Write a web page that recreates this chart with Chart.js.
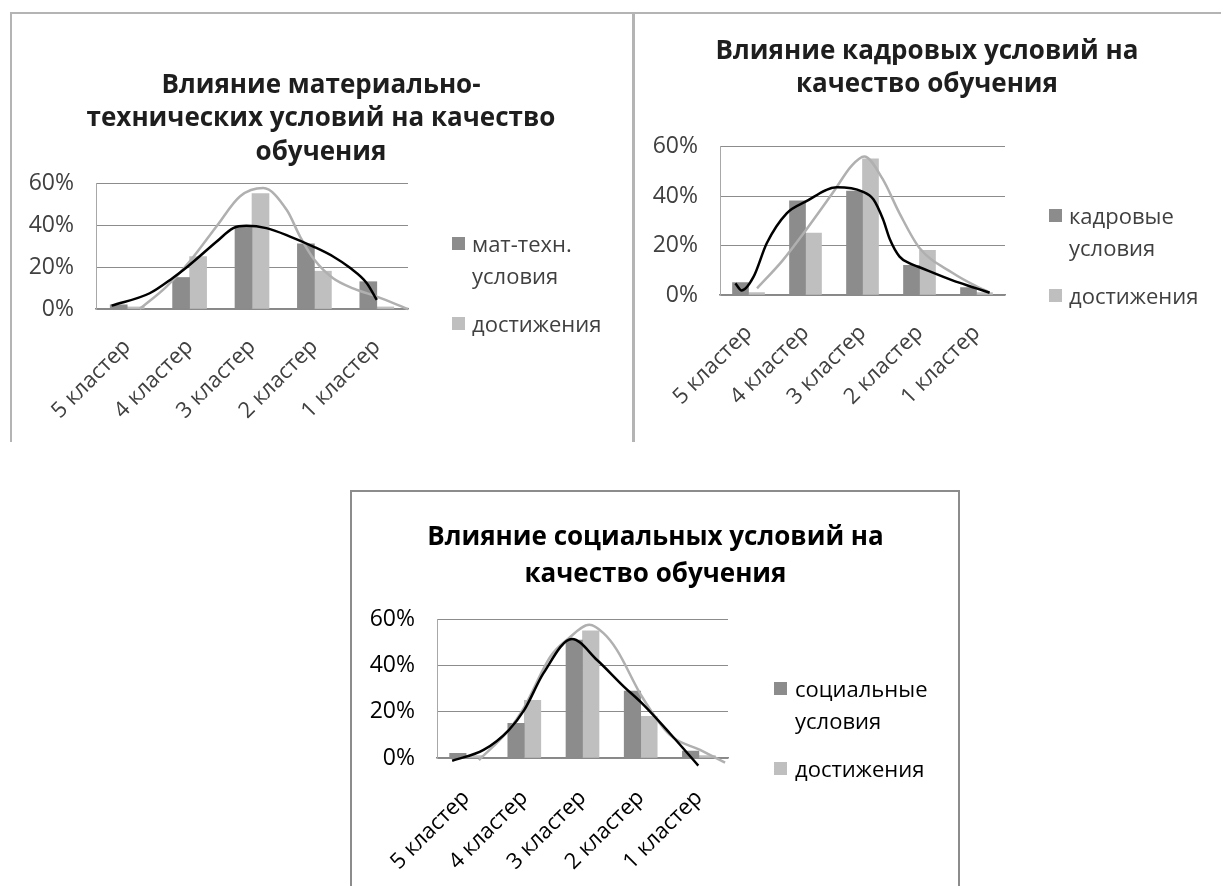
<!DOCTYPE html>
<html>
<head>
<meta charset="utf-8">
<title>Влияние условий на качество обучения</title>
<script src="https://cdn.jsdelivr.net/npm/chart.js"></script>
<style>
    body {
        margin: 0;
        width: 1221px;
        height: 886px;
        position: relative;
        overflow: hidden;
        background: #fff;
        font-family: "Open Sans", sans-serif;
    }
    .frame { position: absolute; box-sizing: border-box; }
    canvas { position: absolute; }
    .legend { position: absolute; font-size: 22px; line-height: 32px; }
    .legend .item { position: relative; white-space: pre-line; }
    .legend .item + .item { margin-top: 16px; }
    .legend .sw { position: absolute; left: 0; top: 10px; width: 13px; height: 13px; }
</style>
</head>
<body>
<div class="frame" style="left:10px;top:12px;width:624px;height:430px;border-top:2px solid #b4b4b4;border-left:2px solid #b4b4b4;border-right:2px solid #b4b4b4;"></div>
<div class="frame" style="left:633px;top:12px;width:600px;height:430px;border-top:2px solid #b4b4b4;border-left:2px solid #b4b4b4;"></div>
<div class="frame" style="left:350px;top:490px;width:610px;height:420px;border:2px solid #8c8c8c;"></div>

<canvas id="c1" width="622" height="430" style="left:10px;top:12px"></canvas>
<canvas id="c2" width="588" height="430" style="left:633px;top:12px"></canvas>
<canvas id="c3" width="609" height="395" style="left:351px;top:491px"></canvas>

<div class="legend" id="l1" style="left:452px;top:227px;color:#404040"></div>
<div class="legend" id="l2" style="left:1049px;top:199px;color:#404040"></div>
<div class="legend" id="l3" style="left:774px;top:672px;color:#000"></div>

<script>
    var categories = ['5 кластер', '4 кластер', '3 кластер', '2 кластер', '1 кластер'];

    // bar values, %
    var matTech = [2, 15, 39, 31, 13];
    var kadr = [5, 38, 42, 12, 3];
    var social = [2, 15, 51, 29, 3];
    var achievements = [1, 25, 55, 18, 1];

    // hand drawn curves: x in cluster units (0 = 5 кластер), y in %
    var matTechCurveX = [-0.25, 0.36, 0.73, 0.96, 1.43, 1.70, 1.91, 2.23, 2.61, 3.0, 3.3, 3.57, 3.84, 4.0];
    var matTechCurveY = [1.6, 7.5, 14.8, 20, 32, 38.5, 39.6, 38.5, 34.5, 29.5, 25, 19.6, 12.3, 4.3];
    var achCurve1X = [0.2, 0.63, 1.0, 1.43, 1.81, 2.18, 2.56, 2.77, 3.0, 3.3, 3.63, 4.0, 4.5];
    var achCurve1Y = [0, 10.7, 22.6, 39.3, 53.7, 57.6, 47, 34.5, 23.4, 14.6, 9.7, 5.9, 0];

    var kadrCurveX = [-0.23, -0.12, 0.09, 0.32, 0.67, 1.0, 1.55, 2.0, 2.19, 2.36, 2.48, 2.65, 2.83, 3.0, 3.59, 4.0, 4.23];
    var kadrCurveY = [4.7, 1.8, 7.4, 20.9, 33, 37.7, 43.5, 41.8, 38.7, 30.6, 22.5, 15.5, 12.8, 11.2, 5.8, 2.7, 0.9];
    var achCurve2X = [0.15, 0.6, 1.0, 1.5, 1.8, 2.03, 2.35, 2.65, 3.0, 3.59, 4.0, 4.23];
    var achCurve2Y = [2.7, 14, 26, 42, 52, 56, 47, 33, 19, 8.8, 3.5, 1];

    var socialCurveX = [-0.24, 0.3, 0.73, 1.0, 1.33, 1.82, 2.25, 2.71, 3.02, 3.5, 3.99];
    var socialCurveY = [-1.2, 3.5, 12, 20.8, 36.7, 51.5, 42.4, 30.9, 23.7, 10.7, -3.3];
    var achCurve3X = [0.22, 0.73, 1.0, 1.45, 1.75, 2.12, 2.36, 2.59, 3.02, 3.5, 4.02, 4.45];
    var achCurve3Y = [-0.9, 12, 22, 43.9, 51.5, 57.6, 54, 46.8, 26.6, 10, 3.5, -2];

    var DARK = '#8c8c8c';
    var LIGHT = '#bfbfbf';

    Chart.defaults.font.family = '"Open Sans", sans-serif';

    function toPoints(xs, ys) {
        return xs.map(function (x, i) { return { x: x, y: ys[i] }; });
    }

    function makeLegend(id, names) {
        var box = document.getElementById(id);
        var colors = [DARK, LIGHT];
        names.forEach(function (name, i) {
            var item = document.createElement('div');
            item.className = 'item';
            item.style.paddingLeft = (id === 'l3' ? 21 : 20) + 'px';
            var sw = document.createElement('span');
            sw.className = 'sw';
            sw.style.background = colors[i];
            item.appendChild(sw);
            item.appendChild(document.createTextNode(name));
            box.appendChild(item);
        });
    }

    function makeChart(id, o) {
        new Chart(document.getElementById(id), {
            type: 'bar',
            data: {
                labels: categories,
                datasets: [
                    {
                        type: 'line', data: toPoints(o.curveX, o.curveY), xAxisID: 'xc', yAxisID: 'y',
                        borderColor: '#000', borderWidth: 2.5, pointRadius: 0,
                        cubicInterpolationMode: 'monotone', clip: false, order: 0
                    },
                    {
                        type: 'line', data: toPoints(o.achX, o.achY), xAxisID: 'xc', yAxisID: 'y',
                        borderColor: '#b0b0b0', borderWidth: 2.5, pointRadius: 0,
                        cubicInterpolationMode: 'monotone', clip: false, order: 1
                    },
                    {
                        label: o.names[0], data: o.bars, backgroundColor: DARK, xAxisID: 'x', yAxisID: 'y',
                        barThickness: o.barW, order: 2
                    },
                    {
                        label: o.names[1], data: achievements, backgroundColor: LIGHT, xAxisID: 'x', yAxisID: 'y',
                        barThickness: o.barW, order: 2
                    }
                ]
            },
            options: {
                responsive: false,
                animation: false,
                events: [],
                plugins: {
                    legend: { display: false },
                    tooltip: { enabled: false },
                    title: {
                        display: true,
                        text: o.title,
                        color: o.titleColor,
                        font: { size: o.titleSize, weight: 'bold', lineHeight: o.titleLine },
                        padding: { top: o.titleTop, bottom: o.titleBottom }
                    }
                },
                scales: {
                    x: {
                        offset: true,
                        grid: { display: false, drawTicks: false },
                        border: { color: '#888', width: 1.5 },
                        ticks: {
                            minRotation: 45, maxRotation: 45, padding: o.xPad, autoSkip: false,
                            color: o.textColor, font: { size: 22 }
                        },
                        afterFit: function (s) { s.height = o.xHeight; }
                    },
                    // curves run on their own linear axis, -0.5..4.5 = edges of the category band
                    xc: { type: 'linear', min: -0.5, max: 4.5, offset: false, display: false },
                    y: {
                        min: 0, max: 60,
                        grid: { color: '#8c8c8c', drawTicks: false },
                        border: { color: '#a8a8a8' },
                        ticks: {
                            stepSize: 20, padding: 22, color: o.textColor, font: { size: 23 },
                            callback: function (v) { return v + '%'; }
                        },
                        afterFit: function (s) { s.width = o.yWidth; }
                    },
                    yr: {
                        position: 'right',
                        grid: { display: false, drawTicks: false },
                        border: { display: false },
                        ticks: { display: false },
                        afterFit: function (s) { s.width = o.rightSpace; }
                    }
                }
            }
        });
        makeLegend(o.legend, o.names);
    }

    makeChart('c1', {
        title: ['Влияние материально-', 'технических условий на качество', 'обучения'],
        titleSize: 26, titleLine: '33.5px', titleTop: 56.5, titleBottom: 14, titleColor: '#1e1e1e',
        textColor: '#404040',
        bars: matTech, names: ['мат-техн.\nусловия', 'достижения'],
        curveX: matTechCurveX, curveY: matTechCurveY, achX: achCurve1X, achY: achCurve1Y,
        barW: 17, xPad: 25, xHeight: 133, yWidth: 86, rightSpace: 224, legend: 'l1'
    });

    makeChart('c2', {
        title: ['Влияние кадровых условий на', 'качество обучения'],
        titleSize: 26, titleLine: '33px', titleTop: 23.5, titleBottom: 45, titleColor: '#1e1e1e',
        textColor: '#404040',
        bars: kadr, names: ['кадровые\nусловия', 'достижения'],
        curveX: kadrCurveX, curveY: kadrCurveY, achX: achCurve2X, achY: achCurve2Y,
        barW: 16, xPad: 25, xHeight: 147, yWidth: 87, rightSpace: 216, legend: 'l2'
    });

    makeChart('c3', {
        title: ['Влияние социальных условий на', 'качество обучения'],
        titleSize: 26, titleLine: '37px', titleTop: 28.5, titleBottom: 25.8, titleColor: '#000',
        textColor: '#000',
        bars: social, names: ['социальные\nусловия', 'достижения'],
        curveX: socialCurveX, curveY: socialCurveY, achX: achCurve3X, achY: achCurve3Y,
        barW: 16.5, xPad: 27, xHeight: 128, yWidth: 86, rightSpace: 232, legend: 'l3'
    });
</script>
</body>
</html>
